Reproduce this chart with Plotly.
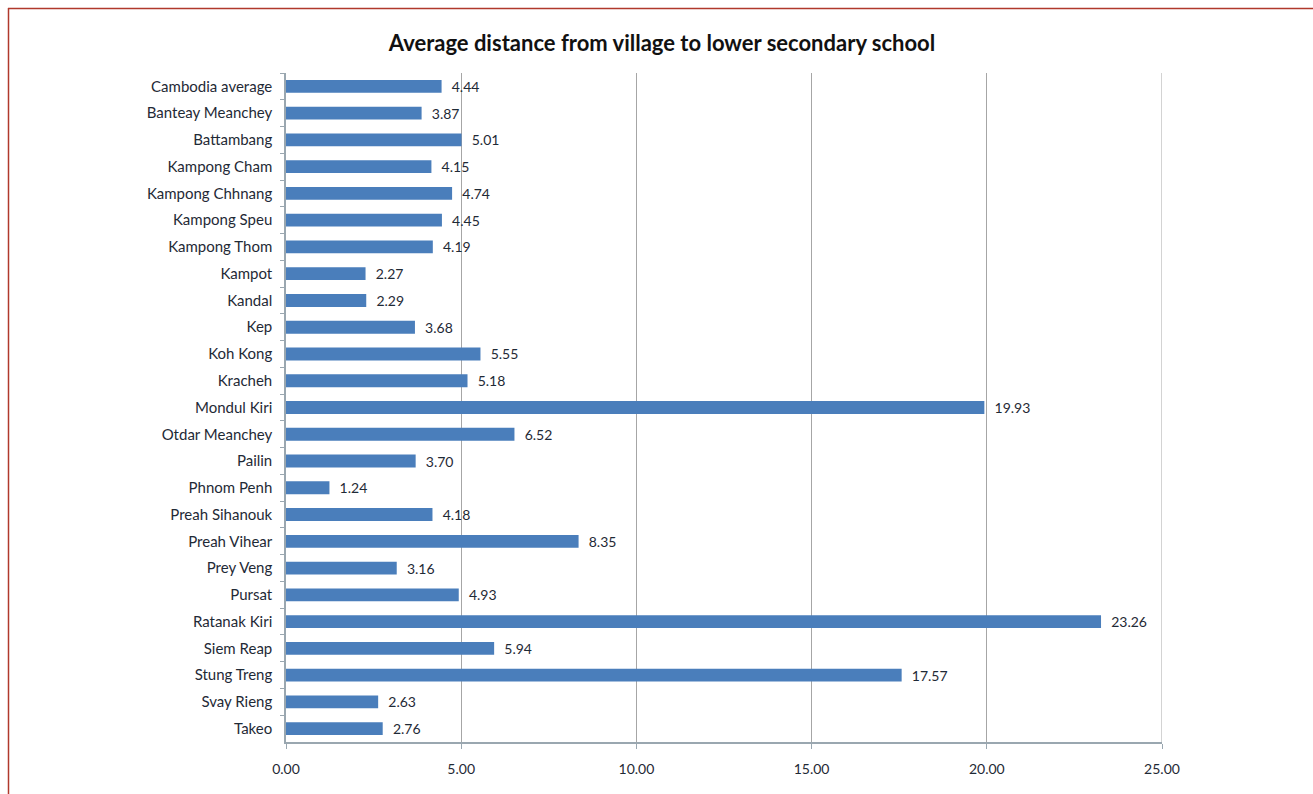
import plotly.graph_objects as go

provinces = ["Cambodia average", "Banteay Meanchey", "Battambang", "Kampong Cham",
             "Kampong Chhnang", "Kampong Speu", "Kampong Thom", "Kampot", "Kandal",
             "Kep", "Koh Kong", "Kracheh", "Mondul Kiri", "Otdar Meanchey", "Pailin",
             "Phnom Penh", "Preah Sihanouk", "Preah Vihear", "Prey Veng", "Pursat",
             "Ratanak Kiri", "Siem Reap", "Stung Treng", "Svay Rieng", "Takeo"]
distance = [4.44, 3.87, 5.01, 4.15, 4.74, 4.45, 4.19, 2.27, 2.29, 3.68, 5.55, 5.18,
            19.93, 6.52, 3.70, 1.24, 4.18, 8.35, 3.16, 4.93, 23.26, 5.94, 17.57, 2.63, 2.76]
x_ticks = [0, 5, 10, 15, 20, 25]
x_tick_labels = ["0.00", "5.00", "10.00", "15.00", "20.00", "25.00"]

FONT = "Lato"
TXT = "#1f2a36"
W, H = 1313, 794
L, R, T, B = 286, 151, 73, 52
pw, ph = W - L - R, H - T - B

def px(x):
    return (x - L) / pw

def py(y):
    return (H - B - y) / ph

fig = go.Figure(go.Bar(
    x=distance, y=provinces, orientation="h",
    marker=dict(color="#4a7ebb", line=dict(width=0)),
    text=["\u00a0\u00a0" + f"{v:.2f}" for v in distance], textposition="outside",
    constraintext="none",
    textfont=dict(family=FONT, size=14, color=TXT),
    cliponaxis=False,
))

fig.update_layout(
    width=W, height=H,
    margin=dict(l=L, r=R, t=T, b=B, autoexpand=False),
    paper_bgcolor="white", plot_bgcolor="white",
    bargap=0.52,
    showlegend=False,
    title=dict(text="<b>Average distance from village to lower secondary school</b>",
               xref="container", x=662 / W, xanchor="center",
               yref="container", y=1 - 43 / H, yanchor="middle",
               font=dict(family=FONT, size=22, color="#111111")),
    xaxis=dict(range=[0, 25], tickvals=x_ticks, ticktext=x_tick_labels,
               showgrid=True, gridcolor="#a6a6a6", gridwidth=1,
               showline=True, linecolor="#9aa7b0", linewidth=1.5,
               ticks="outside", ticklen=5, tickcolor="#9aa7b0",
               ticklabelstandoff=8,
               tickfont=dict(family=FONT, size=14, color=TXT),
               zeroline=False, fixedrange=True),
    yaxis=dict(autorange="reversed", categoryorder="array", categoryarray=provinces,
               showline=True, linecolor="#9aa7b0", linewidth=1.5,
               ticks="outside", ticklen=4, tickcolor="#9aa7b0", tickson="boundaries",
               ticklabelstandoff=9,
               tickfont=dict(family=FONT, size=15, color=TXT),
               showgrid=False, fixedrange=True),
    shapes=[
        dict(type="line", xref="x", yref="paper", x0=x_ticks[-1], x1=x_ticks[-1],
             y0=0, y1=1, line=dict(color="#a6a6a6", width=1), layer="below"),
        dict(type="line", xref="paper", yref="paper", x0=px(8), x1=px(1320),
             y0=py(8.5), y1=py(8.5), line=dict(color="#b0392c", width=1.5)),
        dict(type="line", xref="paper", yref="paper", x0=px(8.5), x1=px(8.5),
             y0=py(8), y1=py(800), line=dict(color="#b0392c", width=1.5)),
    ],
)

fig.write_html("out.html", config={"displayModeBar": False},
               post_script="document.body.style.margin='0';document.body.style.overflow='hidden';")
